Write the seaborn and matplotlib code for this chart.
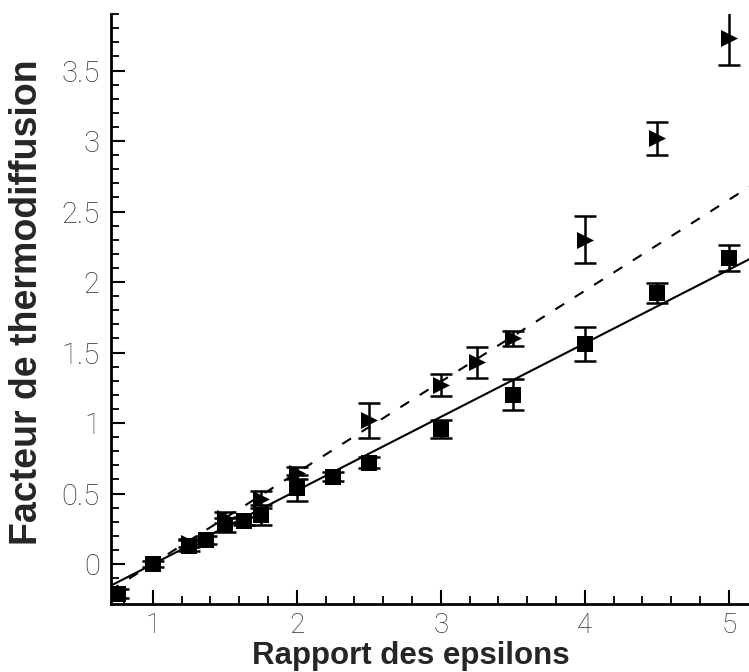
import numpy as np
import pandas as pd
import matplotlib
matplotlib.use("Agg")
import matplotlib.pyplot as plt
from matplotlib.ticker import MultipleLocator
import seaborn as sns

# ---- data ----
sq_x = [0.76, 1.0, 1.25, 1.37, 1.5, 1.63, 1.75, 2.0, 2.25, 2.5, 3.0, 3.5, 4.0, 4.5, 5.0]
sq_y = [-0.21, 0.0, 0.13, 0.17, 0.28, 0.305, 0.35, 0.54, 0.62, 0.72, 0.96, 1.20, 1.56, 1.92, 2.17]
sq_err = [0.03, 0.02, 0.04, 0.03, 0.05, 0.03, 0.07, 0.09, 0.03, 0.04, 0.065, 0.11, 0.12, 0.07, 0.09]

tri_x = [1.25, 1.5, 1.75, 2.0, 2.5, 3.0, 3.25, 3.5, 4.0, 4.5, 5.0]
tri_y = [0.15, 0.33, 0.46, 0.645, 1.02, 1.27, 1.43, 1.60, 2.30, 3.02, 3.73]
tri_err = [0.03, 0.04, 0.06, 0.04, 0.125, 0.075, 0.11, 0.055, 0.165, 0.117, 0.19]

fit_x = [0.70, 5.15]
fit_solid_y = [-0.157, 2.166]
fit_dashed_y = [-0.19, 2.68]

x_label = "Rapport des epsilons"
y_label = "Facteur de thermodiffusion"
x_ticks = [1, 2, 3, 4, 5]
y_ticks = [0, 0.5, 1, 1.5, 2, 2.5, 3, 3.5]
y_tick_labels = ["0", "0.5", "1", "1.5", "2", "2.5", "3", "3.5"]

sns.set_theme(style="white")
plt.rcParams["font.family"] = ["Liberation Sans", "DejaVu Sans"]

fig = plt.figure(figsize=(7.49, 6.72), dpi=100)
ax = fig.add_axes([0.148, 0.101, 0.852, 0.878])

df_sq = pd.DataFrame({"x": sq_x, "y": sq_y})
df_tri = pd.DataFrame({"x": tri_x, "y": tri_y})
df_fs = pd.DataFrame({"x": fit_x, "y": fit_solid_y})
df_fd = pd.DataFrame({"x": fit_x, "y": fit_dashed_y})

sns.lineplot(data=df_fs, x="x", y="y", ax=ax, color="black", linewidth=1.5)
sns.lineplot(data=df_fd, x="x", y="y", ax=ax, color="black", linewidth=1.5,
             linestyle=(0, (5, 6)))

ax.errorbar(sq_x, sq_y, yerr=sq_err, fmt="none", ecolor="black",
            elinewidth=1.8, capsize=8, capthick=1.8)
ax.errorbar(tri_x, tri_y, yerr=tri_err, fmt="none", ecolor="black",
            elinewidth=1.8, capsize=8, capthick=1.8)

sns.scatterplot(data=df_sq, x="x", y="y", ax=ax, marker="s", s=130,
                color="black", edgecolor="black", linewidth=0, zorder=5)
sns.scatterplot(data=df_tri, x="x", y="y", ax=ax, marker=">", s=150,
                color="black", edgecolor="black", linewidth=0, zorder=5)

ax.set_xlim(0.708, 5.14)
ax.set_ylim(-0.284, 3.90)

ax.set_xticks(x_ticks)
ax.set_xticklabels([str(t) for t in x_ticks])
ax.set_yticks(y_ticks)
ax.set_yticklabels(y_tick_labels)
ax.xaxis.set_minor_locator(MultipleLocator(0.2))
ax.yaxis.set_minor_locator(MultipleLocator(0.1))

ax.tick_params(which="major", direction="in", length=10, width=1.5,
               color="black", pad=8, labelsize=21, labelcolor="#333333",
               bottom=True, left=True, top=False, right=False)
ax.tick_params(axis="x", which="major", pad=6, labelsize=20)
ax.tick_params(which="minor", direction="in", length=6, width=1.3,
               color="black", bottom=True, left=True, top=False, right=False)
for lab in ax.get_xticklabels() + ax.get_yticklabels():
    lab.set_fontfamily(["Roboto", "DejaVu Sans"])
    lab.set_fontweight("light")

for s in ["top", "right"]:
    ax.spines[s].set_visible(False)
for s in ["left", "bottom"]:
    ax.spines[s].set_color("black")
    ax.spines[s].set_linewidth(2)

ax.set_xlabel(x_label, fontsize=22.5, fontweight="bold")
ax.set_ylabel(y_label, fontsize=27, fontweight="bold")
ax.xaxis.set_label_coords(0.47, -0.062, transform=ax.transAxes)
ax.xaxis.label.set_verticalalignment("top")
ax.yaxis.set_label_coords(-0.103, 0.512, transform=ax.transAxes)

fig.savefig("out.png", dpi=100)
